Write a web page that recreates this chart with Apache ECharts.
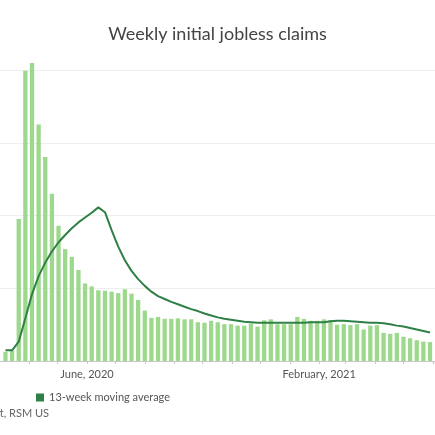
<!DOCTYPE html>
<html>
<head>
<meta charset="utf-8">
<script src="https://cdn.jsdelivr.net/npm/echarts@6/dist/echarts.min.js"></script>
<style>
  html, body { margin: 0; padding: 0; background: #fff; overflow: hidden; }
  #main { width: 435px; height: 435px; }
</style>
</head>
<body>
<div id="main"></div>
<script>
// week ending dates
var weeks = [
  '2020-03-07', '2020-03-14', '2020-03-21', '2020-03-28', '2020-04-04', '2020-04-11', '2020-04-18', '2020-04-25',
  '2020-05-02', '2020-05-09', '2020-05-16', '2020-05-23', '2020-05-30', '2020-06-06', '2020-06-13', '2020-06-20',
  '2020-06-27', '2020-07-04', '2020-07-11', '2020-07-18', '2020-07-25', '2020-08-01', '2020-08-08', '2020-08-15',
  '2020-08-22', '2020-08-29', '2020-09-05', '2020-09-12', '2020-09-19', '2020-09-26', '2020-10-03', '2020-10-10',
  '2020-10-17', '2020-10-24', '2020-10-31', '2020-11-07', '2020-11-14', '2020-11-21', '2020-11-28', '2020-12-05',
  '2020-12-12', '2020-12-19', '2020-12-26', '2021-01-02', '2021-01-09', '2021-01-16', '2021-01-23', '2021-01-30',
  '2021-02-06', '2021-02-13', '2021-02-20', '2021-02-27', '2021-03-06', '2021-03-13', '2021-03-20', '2021-03-27',
  '2021-04-03', '2021-04-10', '2021-04-17', '2021-04-24', '2021-05-01', '2021-05-08', '2021-05-15', '2021-05-22',
  '2021-05-29'
];

// initial claims, millions
var claims = [
  0.19, 0.21, 2.93, 5.99, 6.15, 4.88, 4.21, 3.45,
  2.79, 2.31, 2.15, 1.88, 1.60, 1.54, 1.46, 1.45,
  1.43, 1.40, 1.48, 1.39, 1.26, 1.04, 0.89, 0.91,
  0.87, 0.87, 0.88, 0.86, 0.86, 0.80, 0.79, 0.83,
  0.80, 0.76, 0.76, 0.73, 0.73, 0.77, 0.71, 0.84,
  0.86, 0.76, 0.76, 0.76, 0.91, 0.87, 0.83, 0.83,
  0.86, 0.84, 0.75, 0.76, 0.74, 0.76, 0.65, 0.73,
  0.74, 0.58, 0.56, 0.58, 0.50, 0.47, 0.43, 0.40,
  0.39
];

// 13-week moving average, millions
var movingAvg = [
  0.22, 0.22, 0.40, 0.88, 1.38, 1.75, 2.03, 2.26,
  2.45, 2.60, 2.74, 2.86, 2.96, 3.06, 3.17, 3.07,
  2.70, 2.36, 2.08, 1.86, 1.69, 1.55, 1.43, 1.34,
  1.28, 1.22, 1.17, 1.12, 1.07, 1.03, 0.98, 0.94,
  0.90, 0.87, 0.85, 0.83, 0.81, 0.80, 0.79, 0.79,
  0.79, 0.79, 0.79, 0.79, 0.79, 0.79, 0.80, 0.80,
  0.80, 0.82, 0.83, 0.83, 0.82, 0.81, 0.80, 0.79,
  0.79, 0.78, 0.76, 0.73, 0.71, 0.68, 0.65, 0.62,
  0.59
];

var yTicks = [0, 1.5, 3, 4.5, 6, 7.5];

var labelMonths = { '2020-5': 'June, 2020', '2021-1': 'February, 2021' };

var barData = weeks.map(function (d, i) { return [d, claims[i]]; });
var lineData = weeks.map(function (d, i) { return [d, movingAvg[i]]; });

var chart = echarts.init(document.getElementById('main'));

var option = {
  animation: false,
  textStyle: { fontFamily: 'Lato' },
  title: {
    text: 'Weekly initial jobless claims',
    left: 'center',
    top: 20,
    textStyle: { fontFamily: 'Lato', fontSize: 18, fontWeight: 'normal', color: '#444' }
  },
  legend: {
    data: ['13-week moving average'],
    left: 31,
    top: 387,
    icon: 'rect',
    itemWidth: 8,
    itemHeight: 8,
    textStyle: { fontFamily: 'Lato', fontSize: 11, color: '#555' }
  },
  graphic: [{
    type: 'text',
    style: {
      x: 49,
      y: 413,
      text: 'Source: Labor Department, RSM US',
      align: 'right',
      verticalAlign: 'middle',
      fontFamily: 'Lato',
      fontSize: 11,
      fill: '#666'
    }
  }],
  grid: { left: 0, right: 0, top: -2.5, bottom: 74, containLabel: false, outerBoundsMode: 'none' },
  xAxis: {
    type: 'time',
    min: new Date(2020, 2, 3, 12).getTime(),
    max: new Date(2021, 5, 1, 0).getTime(),
    splitNumber: 15,
    minInterval: 28 * 86400000,
    maxInterval: 31 * 86400000,
    axisLine: { lineStyle: { color: '#c8c8c8', width: 1 } },
    axisTick: { show: true, length: 3, lineStyle: { color: '#c8c8c8' } },
    splitLine: { show: false },
    axisLabel: {
      margin: 8,
      fontFamily: 'Lato',
      fontSize: 11,
      color: '#555',
      hideOverlap: false,
      formatter: function (value) {
        var d = new Date(value);
        var key = d.getFullYear() + '-' + d.getMonth();
        return labelMonths[key] && d.getDate() === 1 ? labelMonths[key] : '';
      }
    }
  },
  yAxis: {
    type: 'value',
    min: yTicks[0],
    max: yTicks[yTicks.length - 1],
    interval: 1.5,
    axisLine: { show: false },
    axisTick: { show: false },
    axisLabel: { show: false },
    splitLine: { lineStyle: { color: '#eeeeee', width: 1 } }
  },
  series: [
    {
      name: 'Initial claims',
      type: 'bar',
      data: barData,
      barWidth: 4.3,
      itemStyle: { color: '#9dd98c' }
    },
    {
      name: '13-week moving average',
      type: 'line',
      data: lineData,
      showSymbol: false,
      symbol: 'none',
      z: 5,
      lineStyle: { color: '#2f8046', width: 2 },
      itemStyle: { color: '#2f8046' }
    }
  ]
};

chart.setOption(option);
</script>
</body>
</html>
